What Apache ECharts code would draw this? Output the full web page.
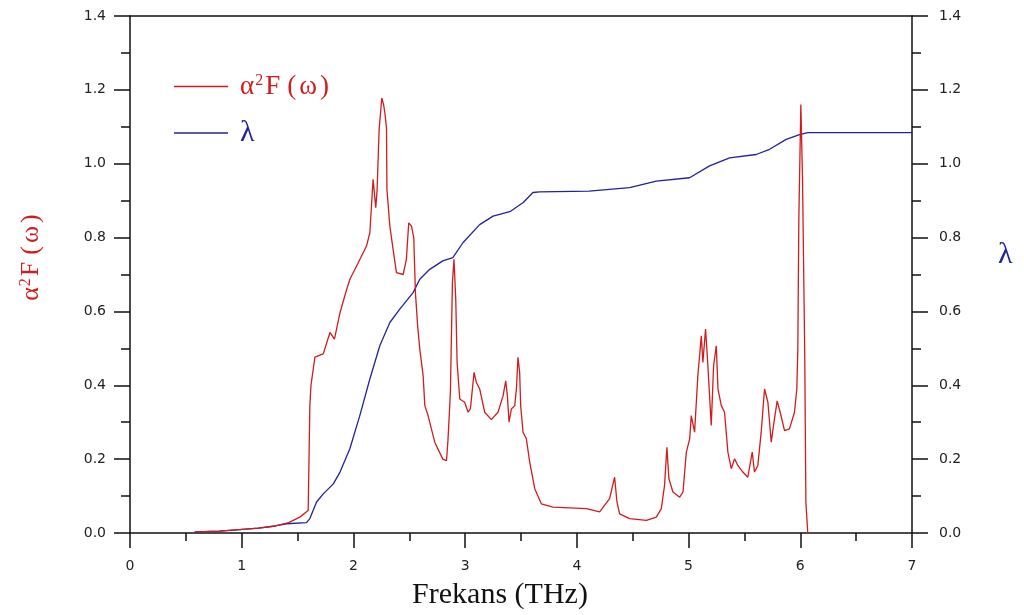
<!DOCTYPE html>
<html>
<head>
<meta charset="utf-8">
<script src="https://cdn.jsdelivr.net/npm/echarts@6/dist/echarts.min.js"></script>
<style>html,body{margin:0;padding:0;background:#fff}#c{width:1024px;height:615px}</style>
</head>
<body>
<div id="c"></div>
<script>
// alpha^2 F(omega) spectral function: [frequency THz, value]
var a2fPoints = [[0.58,0.003],[0.8,0.005],[0.98,0.009],[1.15,0.013],[1.30,0.019],[1.42,0.028],[1.52,0.043],[1.595,0.061],[1.61,0.345],[1.62,0.40],[1.655,0.476],[1.73,0.485],[1.79,0.543],[1.83,0.525],[1.88,0.597],[1.94,0.66],[1.968,0.687],[2.04,0.73],[2.117,0.777],[2.147,0.813],[2.176,0.958],[2.2,0.881],[2.212,0.93],[2.23,1.093],[2.254,1.178],[2.27,1.16],[2.281,1.138],[2.296,1.097],[2.30,0.93],[2.326,0.831],[2.355,0.768],[2.385,0.705],[2.445,0.70],[2.474,0.741],[2.495,0.84],[2.52,0.831],[2.54,0.80],[2.555,0.651],[2.575,0.56],[2.594,0.498],[2.624,0.426],[2.639,0.345],[2.668,0.318],[2.728,0.246],[2.80,0.20],[2.833,0.196],[2.847,0.255],[2.868,0.381],[2.886,0.678],[2.90,0.741],[2.916,0.633],[2.928,0.462],[2.952,0.363],[2.996,0.354],[3.026,0.327],[3.047,0.336],[3.08,0.435],[3.10,0.408],[3.13,0.39],[3.175,0.327],[3.235,0.307],[3.294,0.327],[3.34,0.372],[3.363,0.412],[3.378,0.372],[3.393,0.30],[3.414,0.336],[3.444,0.345],[3.459,0.39],[3.473,0.476],[3.488,0.435],[3.497,0.345],[3.518,0.273],[3.548,0.255],[3.578,0.192],[3.623,0.12],[3.682,0.079],[3.786,0.07],[3.936,0.068],[4.085,0.066],[4.204,0.057],[4.293,0.093],[4.338,0.151],[4.359,0.084],[4.383,0.052],[4.472,0.039],[4.622,0.034],[4.711,0.043],[4.756,0.066],[4.785,0.129],[4.806,0.232],[4.824,0.147],[4.86,0.111],[4.92,0.097],[4.95,0.111],[4.98,0.219],[5.01,0.255],[5.024,0.318],[5.054,0.273],[5.083,0.426],[5.114,0.534],[5.128,0.462],[5.152,0.552],[5.173,0.453],[5.203,0.291],[5.224,0.453],[5.248,0.507],[5.263,0.39],[5.293,0.345],[5.322,0.327],[5.352,0.219],[5.382,0.174],[5.412,0.201],[5.441,0.183],[5.486,0.165],[5.53,0.151],[5.57,0.219],[5.59,0.165],[5.62,0.183],[5.65,0.273],[5.68,0.39],[5.71,0.354],[5.74,0.246],[5.76,0.291],[5.793,0.358],[5.82,0.327],[5.859,0.277],[5.903,0.282],[5.948,0.327],[5.969,0.39],[5.978,0.498],[5.987,0.85],[6.005,1.16],[6.02,0.958],[6.04,0.48],[6.05,0.084],[6.067,0.0]];

// cumulative electron-phonon coupling lambda: [frequency THz, value]
var lambdaPoints = [[0.58,0.003],[0.8,0.005],[0.98,0.009],[1.15,0.013],[1.30,0.019],[1.40,0.025],[1.58,0.028],[1.61,0.039],[1.67,0.084],[1.73,0.106],[1.82,0.133],[1.88,0.165],[1.968,0.228],[2.057,0.318],[2.147,0.417],[2.236,0.507],[2.326,0.57],[2.415,0.606],[2.534,0.651],[2.594,0.687],[2.683,0.714],[2.80,0.737],[2.89,0.746],[2.98,0.786],[3.13,0.835],[3.25,0.858],[3.40,0.87],[3.52,0.895],[3.607,0.922],[3.667,0.924],[4.11,0.926],[4.472,0.935],[4.711,0.953],[5.009,0.962],[5.188,0.994],[5.367,1.016],[5.605,1.025],[5.725,1.039],[5.874,1.066],[5.993,1.079],[6.067,1.084],[7.0,1.084]];

var xTicks = [0,1,2,3,4,5,6,7];
var yTicks = [0.0,0.2,0.4,0.6,0.8,1.0,1.2,1.4];
var seriesNames = ['α²F(ω)', 'λ'];
var xTitle = 'Frekans (THz)';

var RED = '#d01c1c', BLUE = '#22229a';
var FONT = 'Liberation Serif';
var A2F_RICH = '{a|α}{s|2}{f|F}{p|(}{w|ω}{q|)}';
function a2fRich(size) {
  return {
    a: {fontFamily: FONT, fontSize: size, color: RED},
    s: {fontFamily: FONT, fontSize: Math.round(size*0.6), color: RED, verticalAlign: 'top', padding: [0,1,Math.round(size*0.4),1]},
    f: {fontFamily: FONT, fontSize: size, color: RED, padding: [0,0,0,1]},
    p: {fontFamily: FONT, fontSize: size, color: RED, padding: [0,3,0,7]},
    w: {fontFamily: FONT, fontSize: size, color: RED, padding: [0,3,0,0]},
    q: {fontFamily: FONT, fontSize: size, color: RED}
  };
}

var chart = echarts.init(document.getElementById('c'), null, {renderer:'canvas'});
var tickLbl = {fontFamily: 'DejaVu Sans', fontSize: 14, color: '#222'};
function yAxisCfg(pos) {
  return {
    type: 'value', position: pos, min: yTicks[0], max: yTicks[yTicks.length-1], interval: 0.2,
    axisLine: {show: true, onZero: false, lineStyle: {color: '#111', width: 1.5}},
    axisTick: {show: true, inside: false, length: 16, lineStyle: {color: '#111', width: 1.5}},
    minorTick: {show: true, splitNumber: 2, length: 9, lineStyle: {color: '#111', width: 1.5}},
    splitLine: {show: false},
    axisLabel: Object.assign({formatter: function(v){return v.toFixed(1);}, margin: pos === 'left' ? 24 : 27}, tickLbl)
  };
}
var yl = yAxisCfg('left');
yl.name = A2F_RICH;
yl.nameLocation = 'middle';
yl.nameGap = 86;
yl.nameTextStyle = {padding: [0,0,0,34], rich: a2fRich(26)};
var yr = yAxisCfg('right');
yr.name = 'λ';
yr.nameLocation = 'middle';
yr.nameRotate = 0;
yr.nameGap = 86;
yr.nameTextStyle = {fontFamily: FONT, fontSize: 30, color: BLUE, verticalAlign: 'bottom', padding: [0,0,4,0]};

chart.setOption({
  animation: false,
  backgroundColor: '#fff',
  grid: {left: 130, right: 112, top: 16, bottom: 78, containLabel: false},
  legend: {
    orient: 'vertical', left: 169, top: 68, itemWidth: 54, itemHeight: 1.5, itemGap: 18,
    icon: 'rect',
    data: [{name: seriesNames[0]}, {name: seriesNames[1]}],
    formatter: function(n){ return n === seriesNames[0] ? A2F_RICH : '{l|λ}'; },
    textStyle: {padding: [0,0,0,7], rich: Object.assign(a2fRich(27), {
      l: {fontFamily: FONT, fontSize: 30, color: BLUE}
    })}
  },
  xAxis: [{
    type: 'value', min: xTicks[0], max: xTicks[xTicks.length-1], interval: 1,
    name: xTitle, nameLocation: 'middle', nameGap: 47,
    nameTextStyle: {fontFamily: FONT, fontSize: 30, color: '#111', padding: [0,42,0,0]},
    axisLine: {show: true, onZero: false, lineStyle: {color: '#111', width: 1.5}},
    axisTick: {show: true, length: 15, lineStyle: {color: '#111', width: 1.5}},
    minorTick: {show: true, splitNumber: 2, length: 8, lineStyle: {color: '#111', width: 1.5}},
    splitLine: {show: false},
    axisLabel: Object.assign({margin: 26}, tickLbl)
  }, {
    type: 'value', position: 'top', min: 0, max: 7,
    axisLine: {show: true, onZero: false, lineStyle: {color: '#111', width: 1.5}},
    axisTick: {show: false}, axisLabel: {show: false}, splitLine: {show: false}
  }],
  yAxis: [yl, yr],
  series: [{
    name: seriesNames[0], type: 'line', xAxisIndex: 0, yAxisIndex: 0, symbol: 'none',
    lineStyle: {color: RED, width: 1.3}, itemStyle: {color: RED},
    data: a2fPoints.map(function(p){return [p[0], p[1]];}), z: 3
  }, {
    name: seriesNames[1], type: 'line', xAxisIndex: 0, yAxisIndex: 1, symbol: 'none',
    lineStyle: {color: BLUE, width: 1.3}, itemStyle: {color: BLUE},
    data: lambdaPoints.map(function(p){return [p[0], p[1]];}), z: 2
  }]
});
</script>
</body>
</html>
